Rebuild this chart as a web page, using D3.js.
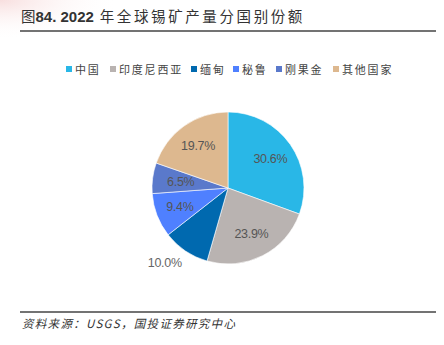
<!DOCTYPE html>
<html><head><meta charset="utf-8">
<script src="https://cdn.jsdelivr.net/npm/d3@7"></script>
<style>body{margin:0;background:#fff;}svg{display:block;}</style>
</head><body>
<svg id="c" width="444" height="345"></svg>
<script>
const categories = ["中国","印度尼西亚","缅甸","秘鲁","刚果金","其他国家"];
const values = [30.6, 23.9, 10.0, 9.4, 6.5, 19.7];
const labels = ["30.6%","23.9%","10.0%","9.4%","6.5%","19.7%"];
const colors = ["#29B7E7","#B9B3B1","#0069AF","#4F80FF","#5A79CB","#DDB88F"];
const titleParts = ["图", "84. 2022", " 年全球锡矿产量分国别份额"];
const sourceText = "资料来源：USGS，国投证券研究中心";

const svg = d3.select("#c");
const defs = svg.append("defs");
const rg = defs.append("radialGradient").attr("id","corner").attr("cx","0").attr("cy","0").attr("r","1");
rg.append("stop").attr("offset","0").attr("stop-color","#f6d6d6").attr("stop-opacity",0.8);
rg.append("stop").attr("offset","1").attr("stop-color","#fff").attr("stop-opacity",0);
svg.append("rect").attr("x",0).attr("y",0).attr("width",120).attr("height",40).attr("fill","url(#corner)");

const font = "'Noto Sans CJK SC', 'Liberation Sans', sans-serif";
const t = svg.append("text").attr("x",21).attr("y",22).attr("font-family",font).attr("font-size",14.5).attr("fill","#333");
t.append("tspan").text(titleParts[0]);
t.append("tspan").attr("font-family","'Liberation Sans', Arial, sans-serif").attr("font-weight","bold").attr("font-size",15).text(titleParts[1]);
t.append("tspan").attr("letter-spacing",2.6).text(titleParts[2]);
svg.append("line").attr("x1",20).attr("x2",436).attr("y1",31).attr("y2",31).attr("stroke","#444").attr("stroke-width",1.5);
svg.append("line").attr("x1",20).attr("x2",436).attr("y1",312).attr("y2",312).attr("stroke","#444").attr("stroke-width",1.5);
svg.append("text").attr("x",22).attr("y",328).attr("font-family",font).attr("font-size",11.5)
  .attr("font-style","italic").attr("fill","#333").attr("letter-spacing",1.3).text(sourceText);

// legend
const legendX = [66, 110, 191, 233, 276, 333];
const lg = svg.append("g").attr("font-family",font).attr("font-size",11).attr("fill","#444");
categories.forEach((c,i)=>{
  lg.append("rect").attr("x",legendX[i]).attr("y",66).attr("width",6).attr("height",6).attr("fill",colors[i]);
  lg.append("text").attr("x",legendX[i]+9).attr("y",73.5).text(c).attr("letter-spacing",1.8);
});

// pie
const cx = 228, cy = 188, r = 76;
const pie = d3.pie().sort(null).value(d=>d)(values);
const arc = d3.arc().innerRadius(0).outerRadius(r);
const g = svg.append("g").attr("transform",`translate(${cx},${cy})`);
g.selectAll("path").data(pie).join("path").attr("d",arc)
  .attr("fill",(d,i)=>colors[i]).attr("stroke","#fff").attr("stroke-width",0.6);

const inner = d3.arc().innerRadius(r*0.68).outerRadius(r*0.68);
const outer = d3.arc().innerRadius(r*1.3).outerRadius(r*1.3);
g.selectAll("text.lbl").data(pie).join("text").attr("class","lbl")
  .attr("transform",(d,i)=>{
    const p = (i===2 ? outer : inner).centroid(d);
    if(i===2){p[0]-=8;p[1]-=7;}
    if(i===4){p[0]+=4;}
    return `translate(${p[0]},${p[1]})`;})
  .attr("text-anchor","middle").attr("dy","0.35em")
  .attr("font-family","'Liberation Sans', Arial, sans-serif").attr("font-size",12.5)
  .attr("fill",(d,i)=>i===2?"#666":"#555").attr("letter-spacing",-0.3)
  .text((d,i)=>labels[i]);
</script>
</body></html>
